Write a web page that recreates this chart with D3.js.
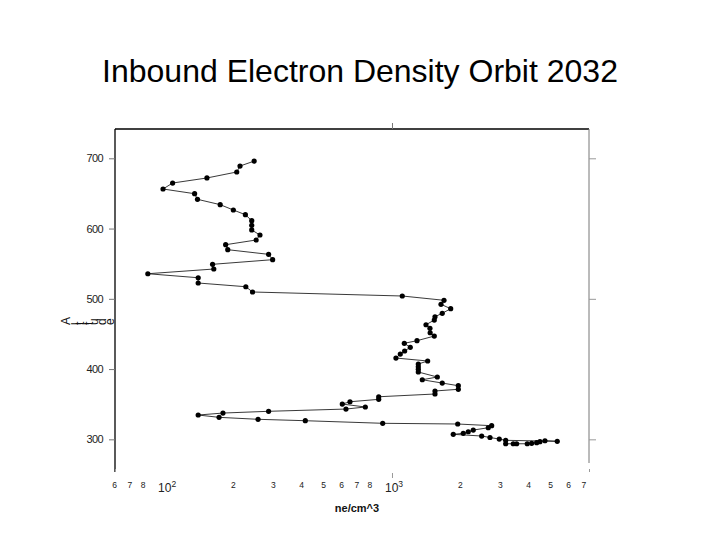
<!DOCTYPE html>
<html>
<head>
<meta charset="utf-8">
<script src="https://cdn.jsdelivr.net/npm/d3@7"></script>
<style>
  html, body { margin: 0; padding: 0; background: #fff; }
  svg { display: block; }
  text { font-family: "Liberation Sans", Arial, sans-serif; }
</style>
</head>
<body>
<script>
// ---- Data ----
const titleText = "Inbound Electron Density Orbit 2032";
const xLabel = "ne/cm^3";
const yLabel = "Altitude";

// electron density (ne/cm^3), in plotting order
const ne = [247, 214, 207, 153, 108, 98, 135, 139, 175, 200, 226, 241, 241, 241,
  262, 252, 185, 189, 286, 298, 162, 164, 84, 140, 140, 227, 243,
  1110, 1695, 1644, 1814, 1665, 1547, 1536, 1412, 1470, 1473, 1536, 1289, 1133,
  1204, 1137, 1088, 1041, 1436, 1306, 1306, 1306, 1306, 1584, 1360, 1665, 1960,
  1960, 1547, 1547, 874, 874, 653, 604, 763, 627, 286, 180, 140, 173, 257, 415,
  910, 1948, 2749, 2656, 2281, 2168, 2061, 1862, 2484, 2703, 2970, 3169, 5348,
  4721, 4487, 4340, 4125, 3945, 3542, 3422, 3169];
// altitude, in plotting order
const alt = [696, 689, 680.5, 672, 664.8, 656.3, 649.6, 641.6, 634, 626.4, 619.7, 611.2, 604.6, 598,
  590.8, 583.7, 577, 569.9, 563.3, 555.7, 549.1, 542.4, 535.7, 530, 522.5, 517.2, 509.7,
  504, 497.9, 492.2, 485.9, 479.4, 474.5, 469.8, 463.1, 458, 451.7, 447, 440.4, 436.7,
  431, 425.7, 421.4, 415.7, 411.5, 407.2, 403.3, 399.6, 395.8, 388.7, 384.8, 380.1, 376.3,
  371.2, 368.8, 364.5, 360.6, 356.9, 353.5, 350.2, 346, 343.1, 339.9, 337.4, 334.6, 331.3, 328.5, 326.5,
  322.8, 321.8, 319.4, 316.5, 313.2, 310.8, 308.5, 307.1, 304.7, 302.6, 300.4, 298.6, 297.2,
  298, 296.6, 295.2, 294.3, 293.7, 293.7, 293.7, 293.7];

const yTicksLeft = [300, 400, 500, 600, 700];
const yTicksRight = [300, 500, 700];
const xMinorTicks = [60, 70, 80, 200, 300, 400, 500, 600, 700, 800, 2000, 3000, 4000, 5000, 6000, 7000];
const xMajorTicks = [100, 1000];
const xDomain = [60.2, 7380];
const yDomain = [253.5, 741.7];

// ---- Layout ----
const W = 720, H = 540;
const L = 115, R = 589, T = 129, B = 472;

const svg = d3.select("body").append("svg").attr("width", W).attr("height", H);

const x = d3.scaleLog().domain(xDomain).range([L, R]);
const y = d3.scaleLinear().domain(yDomain).range([B, T]);

// Title
svg.append("text")
  .attr("x", 360).attr("y", 82)
  .attr("text-anchor", "middle")
  .attr("font-size", 32)
  .attr("fill", "#000")
  .text(titleText);

// Frame: left (black), top (black), right (gray)
svg.append("line").attr("x1", L).attr("x2", L).attr("y1", T).attr("y2", B)
  .attr("stroke", "#000").attr("stroke-width", 1.3);
svg.append("line").attr("x1", L).attr("x2", R).attr("y1", T).attr("y2", T)
  .attr("stroke", "#000").attr("stroke-width", 1.3);
svg.append("line").attr("x1", R).attr("x2", R).attr("y1", T).attr("y2", 463)
  .attr("stroke", "#777").attr("stroke-width", 1);

// Left axis
const leftAxis = d3.axisLeft(y).tickValues(yTicksLeft).tickSize(6).tickPadding(6).tickFormat(d3.format("d"));
const gL = svg.append("g").attr("transform", `translate(${L},0)`).call(leftAxis);
gL.select(".domain").remove();
gL.selectAll(".tick line").attr("stroke", "#777");
gL.selectAll(".tick text").attr("font-size", 11).attr("fill", "#222")
  .attr("font-family", "'Liberation Sans', Arial, sans-serif").attr("letter-spacing", -0.6);

// Right axis
const rightAxis = d3.axisRight(y).tickValues(yTicksRight).tickSize(7).tickFormat("");
const gR = svg.append("g").attr("transform", `translate(${R},0)`).call(rightAxis);
gR.select(".domain").remove();
gR.selectAll(".tick line").attr("stroke", "#999");

// Top axis: tick at 10^3
const topAxis = d3.axisTop(x).tickValues([1000]).tickSize(6).tickFormat("");
const gT = svg.append("g").attr("transform", `translate(0,${T})`).call(topAxis);
gT.select(".domain").remove();
gT.selectAll(".tick line").attr("stroke", "#777");

// Bottom: small tick at 10^3 and edge ticks
const gBt = svg.append("g").attr("transform", `translate(0,473)`)
  .call(d3.axisBottom(x).tickValues([1000]).tickSize(5).tickFormat(""));
gBt.select(".domain").remove();
gBt.selectAll(".tick line").attr("stroke", "#999");
svg.append("g").attr("transform", `translate(0,469)`)
  .call(d3.axisBottom(x).tickValues(xDomain).tickSize(3).tickFormat(""))
  .call(g => g.select(".domain").remove())
  .selectAll(".tick line").attr("stroke", "#999");

// Bottom labels: minor digits
const gB = svg.append("g");
gB.selectAll("text.minor").data(xMinorTicks).enter().append("text")
  .attr("class", "minor")
  .attr("x", d => x(d)).attr("y", 488)
  .attr("text-anchor", "middle")
  .attr("font-size", 8.5)
  .attr("fill", "#222")
  .text(d => String(d).charAt(0));
// Major labels 10^n
const maj = gB.selectAll("text.major").data(xMajorTicks).enter().append("text")
  .attr("class", "major")
  .attr("x", d => x(d) - 7).attr("y", 492)
  .attr("font-size", 12)
  .attr("fill", "#222");
maj.append("tspan").text("10");
maj.append("tspan").attr("dy", -5).attr("font-size", 8.5).text(d => Math.round(Math.log10(d)));

// x label
svg.append("text")
  .attr("x", 357).attr("y", 512)
  .attr("text-anchor", "middle")
  .attr("font-size", 11).attr("font-weight", "bold")
  .attr("fill", "#111")
  .text(xLabel);

// y label: glyphs individually rotated
svg.append("text")
  .attr("x", 70).attr("y", 325)
  .attr("font-size", 12)
  .attr("fill", "#111")
  .attr("rotate", -90)
  .attr("letter-spacing", 1.5)
  .text(yLabel);

// Data line
const pts = ne.map((v, i) => [v, alt[i]]);
svg.append("path")
  .datum(pts)
  .attr("fill", "none")
  .attr("stroke", "#222")
  .attr("stroke-width", 0.9)
  .attr("d", d3.line().x(d => x(d[0])).y(d => y(d[1])));

svg.append("g").selectAll("circle").data(pts).enter().append("circle")
  .attr("cx", d => x(d[0])).attr("cy", d => y(d[1]))
  .attr("r", 2.6)
  .attr("fill", "#000");
</script>
</body>
</html>
